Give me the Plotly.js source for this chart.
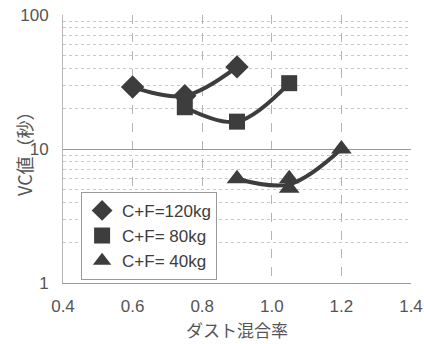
<!DOCTYPE html>
<html><head><meta charset="utf-8">
<script src="https://cdn.plot.ly/plotly-3.0.1.min.js"></script>
<style>html,body{margin:0;padding:0;background:#fff}#chart{width:424px;height:344px}</style>
</head><body><div id="chart"></div>
<script>
const seriesNames = ["C+F=120kg", "C+F= 80kg", "C+F= 40kg"];
// measured points
const x120 = [0.6, 0.75, 0.9];
const y120 = [29, 25, 41];
const x80 = [0.75, 0.9, 1.05];
const y80 = [20.5, 16, 31];
const x40 = [0.9, 1.05, 1.05, 1.2];
const y40 = [6.0, 6.0, 5.1, 10];
// fitted curve for 40kg (through mean value at 1.05)
const x40curve = [0.9, 1.05, 1.2];
const y40curve = [6.0, 5.45, 10];
const xTicks = [0.4, 0.6, 0.8, 1.0, 1.2, 1.4];
const xTickText = ["0.4", "0.6", "0.8", "1.0", "1.2", "1.4"];
const yTicks = [1, 10, 100];
const yTickText = ["1", "10", "100"];

const col = '#3d3d3d';
const txt = '#555';
const fnt = 'Liberation Sans, Arial, Noto Sans CJK JP, sans-serif';
const jp = 'Noto Sans CJK JP, Liberation Sans, sans-serif';
function curve(x, y) {
  return {x: x, y: y, type: 'scatter', mode: 'lines', showlegend: false,
    line: {color: col, width: 4, shape: 'spline', smoothing: 1.0}, hoverinfo: 'skip'};
}
function pts(x, y, name, sym, size) {
  return {x: x, y: y, name: name, type: 'scatter', mode: 'markers',
    marker: {symbol: sym, size: size, color: col}};
}
const data = [
  curve(x120, y120), curve(x80, y80), curve(x40curve, y40curve),
  pts(x120, y120, seriesNames[0], 'diamond', 18),
  pts(x80, y80, seriesNames[1], 'square', 16),
  pts(x40, y40, seriesNames[2], 'triangle-up', 18)
];
const layout = {
  width: 424, height: 344,
  margin: {l: 63, r: 13, t: 15, b: 61},
  paper_bgcolor: '#fff', plot_bgcolor: '#fff',
  showlegend: true,
  legend: {x: 0.052, y: 0.34, xanchor: 'left', yanchor: 'top',
    bordercolor: '#999', borderwidth: 1, bgcolor: '#fff',
    font: {family: fnt, size: 17, color: col}, itemwidth: 30, tracegroupgap: 0},
  xaxis: {range: [0.4, 1.4], tickvals: xTicks, ticktext: xTickText,
    showgrid: true, gridcolor: '#b5b5b5', griddash: 'dash', gridwidth: 1,
    showline: true, linecolor: '#999', mirror: false, zeroline: false,
    ticks: '', ticklabelstandoff: 8, tickfont: {family: fnt, size: 17, color: txt}},
  yaxis: {type: 'log', range: [0, 2], tickvals: yTicks, ticktext: yTickText,
    showgrid: true, gridcolor: '#999', gridwidth: 1,
    showline: true, linecolor: '#b5b5b5', zeroline: false,
    ticks: '', ticklabelstandoff: 10, tickfont: {family: fnt, size: 17, color: txt},
    minor: {dtick: 'D1', showgrid: true, gridcolor: '#c8c8c8', griddash: 'dot', gridwidth: 1, ticks: ''}},
  annotations: [
    {text: 'VC値（秒）', xref: 'paper', yref: 'paper', x: -0.112, y: 0.5,
      xanchor: 'center', yanchor: 'middle', textangle: -90, showarrow: false,
      font: {family: jp, size: 18, color: txt}},
    {text: 'ダスト混合率', xref: 'paper', yref: 'paper', x: 0.5, y: -0.172,
      xanchor: 'center', yanchor: 'middle', showarrow: false,
      font: {family: jp, size: 17, color: txt}}
  ]
};
Plotly.newPlot('chart', data, layout, {staticPlot: true});
</script></body></html>
